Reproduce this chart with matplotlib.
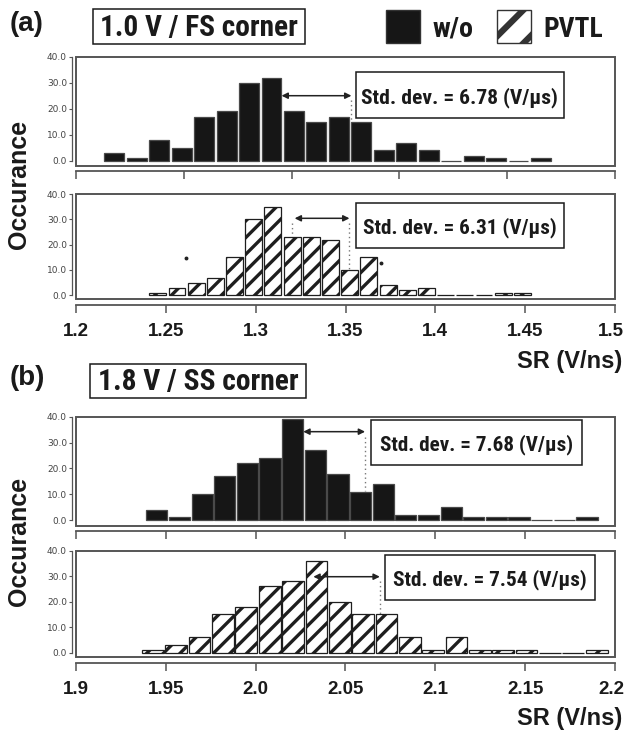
import matplotlib
matplotlib.use("Agg")
import matplotlib.pyplot as plt
from matplotlib.patches import Rectangle
from matplotlib import font_manager as fm
from matplotlib.transforms import ScaledTranslation

W, H, DPI = 624, 731, 100

# ---------------- data ----------------
a_wo_centers = [1.2213, 1.2338, 1.2463, 1.2588, 1.2713, 1.2838, 1.2963, 1.3088, 1.3213, 1.3338,
                1.3463, 1.3588, 1.3713, 1.3838, 1.3963, 1.4088, 1.4213, 1.4338, 1.4463, 1.4588]
a_wo_counts = [3, 1, 8, 5, 17, 19, 30, 32, 19, 15, 17, 15, 4, 7, 4, 0, 2, 1, 0, 1]

a_pvtl_centers = [1.2455, 1.2562, 1.2669, 1.2775, 1.2882, 1.2989, 1.3096, 1.3203, 1.3309, 1.3416,
                  1.3523, 1.3630, 1.3737, 1.3843, 1.3950, 1.4057, 1.4164, 1.4271, 1.4377, 1.4484]
a_pvtl_counts = [1, 3, 5, 7, 15, 30, 35, 23, 23, 22, 10, 15, 4, 2, 3, 0, 0, 0, 1, 1]

b_wo_centers = [1.9450, 1.9576, 1.9702, 1.9828, 1.9954, 2.0080, 2.0206, 2.0332, 2.0458, 2.0584,
                2.0710, 2.0836, 2.0962, 2.1088, 2.1214, 2.1340, 2.1466, 2.1592, 2.1718, 2.1844]
b_wo_counts = [4, 1, 10, 17, 22, 24, 39, 27, 18, 11, 14, 2, 2, 5, 1, 1, 1, 0, 0, 1]

b_pvtl_centers = [1.9428, 1.9558, 1.9688, 1.9818, 1.9948, 2.0078, 2.0208, 2.0338, 2.0468, 2.0598,
                  2.0728, 2.0858, 2.0988, 2.1118, 2.1248, 2.1378, 2.1508, 2.1638, 2.1768, 2.1898]
b_pvtl_counts = [1, 3, 6, 15, 18, 26, 28, 36, 20, 15, 15, 6, 1, 6, 1, 1, 1, 0, 0, 1]

a_xticks = [1.2, 1.25, 1.3, 1.35, 1.4, 1.45, 1.5]
a_xticklabels = ["1.2", "1.25", "1.3", "1.35", "1.4", "1.45", "1.5"]
a_top_ticks = [1.2, 1.26, 1.32, 1.38, 1.44, 1.5]
b_xticks = [1.9, 1.95, 2.0, 2.05, 2.1, 2.15, 2.2]
b_xticklabels = ["1.9", "1.95", "2.0", "2.05", "2.1", "2.15", "2.2"]
yticks = [0, 10, 20, 30, 40]
yticklabels = ["0.0", "10.0", "20.0", "30.0", "40.0"]

std_labels = ["Std. dev. = 6.78 (V/\u03bcs)", "Std. dev. = 6.31 (V/\u03bcs)",
              "Std. dev. = 7.68 (V/\u03bcs)", "Std. dev. = 7.54 (V/\u03bcs)"]
corner_titles = ["1.0 V / FS corner", "1.8 V / SS corner"]
panel_tags = ["(a)", "(b)"]
legend_labels = ["w/o", "PVTL"]
ylabel = "Occurance"
xlabel = "SR (V/ns)"

# ---------------- fonts ----------------
SANS = ["Liberation Sans", "DejaVu Sans"]


def pick_narrow():
    fonts = fm.fontManager.ttflist
    for want in ("Liberation Sans Narrow", "Arial Narrow", "Roboto Condensed", "Open Sans Condensed"):
        for f in fonts:
            if f.name == want:
                return dict(family=[want, "DejaVu Sans"], fontweight="bold")
    for fam in ("Roboto", "Open Sans", "DejaVu Sans"):
        for f in fonts:
            if f.name == fam and f.stretch in ("condensed", "semi-condensed"):
                return dict(family=[fam], fontstretch=f.stretch, fontweight="bold")
    return dict(family=SANS, fontweight="bold")


narrow_kw = pick_narrow()

BLACK = "#161616"
FRAME = "#555555"
INK = "#1a1a1a"

fig = plt.figure(figsize=(W / DPI, H / DPI), dpi=DPI)
renderer = fig.canvas.get_renderer()


def fit_width(t, target_px):
    for _ in range(3):
        w = t.get_window_extent(renderer).width
        if w > 0:
            t.set_fontsize(t.get_fontsize() * target_px / w)
    return t


def fx(px):
    return px / W


def fy(py):
    return 1 - py / H


def make_axes(box_top, box_bot, y0px, y40px, xlim, xticks, xticklabels, bottom_out):
    left, right = 76, 615
    ax = fig.add_axes([fx(left), fy(box_bot), (right - left) / W, (box_bot - box_top) / H])
    ppu = (y0px - y40px) / 40.0
    ax.set_xlim(*xlim)
    ax.set_ylim(-(box_bot - y0px) / ppu, 40 + (y40px - box_top) / ppu)
    for s in ("top", "right"):
        ax.spines[s].set_visible(False)
    ax.spines["left"].set_position(("outward", 3))
    ax.spines["left"].set_bounds(0, 40)
    ax.spines["left"].set_color(FRAME)
    ax.spines["left"].set_linewidth(0.9)
    ax.spines["bottom"].set_position(("outward", bottom_out))
    ax.spines["bottom"].set_color(FRAME)
    ax.spines["bottom"].set_linewidth(1.3)
    ax.add_patch(Rectangle((0, 0), 1, 1, transform=ax.transAxes, fill=False,
                           ec=FRAME, lw=1.4, clip_on=False, zorder=6))
    ax.set_yticks(yticks)
    ax.set_yticklabels(yticklabels, fontsize=6.5, color="#444444", family="DejaVu Sans")
    ax.tick_params(axis="y", direction="out", length=2.5, width=0.8, color=FRAME, pad=1)
    ax.set_xticks(xticks)
    if xticklabels is None:
        ax.set_xticklabels([])
        ax.tick_params(axis="x", direction="out", length=5.5, width=1.1, color=FRAME)
    else:
        ax.set_xticklabels(xticklabels, fontsize=13.5, fontweight="bold", family=SANS, color=INK)
        ax.tick_params(axis="x", direction="out", length=5.5, width=1.1, color=FRAME, pad=7)
        last = ax.get_xticklabels()[-1]
        last.set_transform(last.get_transform() + ScaledTranslation(-4 / DPI, 0, fig.dpi_scale_trans))
    return ax


def solid_bars(ax, centers, counts, width):
    ax.bar(centers, counts, width=width, color=BLACK, edgecolor="#4a4a4a", linewidth=0.9, zorder=2)


def hatched_bars(ax, centers, counts, width):
    bars = ax.bar(centers, counts, width=width, color="white", edgecolor="#1e1e1e",
                  hatch="//", linewidth=0.9, zorder=2)
    for b in bars:
        if hasattr(b, "set_hatch_linewidth"):
            b.set_hatch_linewidth(2.4)


def std_box(ax, x0, x1, y0, y1, text, width_px):
    ax.add_patch(Rectangle((x0, y0), x1 - x0, y1 - y0, fc="white", ec=INK, lw=1.1, zorder=7))
    t = ax.text((x0 + x1) / 2, (y0 + y1) / 2, text, ha="center", va="center_baseline",
                fontsize=14, color=INK, zorder=8, **narrow_kw)
    fit_width(t, width_px)


def arrow(ax, x1, x2, y):
    ax.annotate("", xy=(x2, y), xytext=(x1, y),
                arrowprops=dict(arrowstyle="<|-|>", color="#222222", lw=1.1,
                                mutation_scale=9, shrinkA=0, shrinkB=0), zorder=8)


def dotted(ax, x, y1, y2):
    ax.plot([x, x], [y1, y2], ls=(0, (1, 2.2)), color="#777777", lw=1.0, zorder=3)


plt.rcParams["hatch.linewidth"] = 2.4

# ---------------- panel (a) ----------------
ax1 = make_axes(56.5, 166, 160.7, 56.7, (1.2, 1.5), a_top_ticks, None, 3.5)
solid_bars(ax1, a_wo_centers, a_wo_counts, 0.0111)
arrow(ax1, 1.3144, 1.3533, 25)
dotted(ax1, 1.3533, 23.5, 15.5)
std_box(ax1, 1.3556, 1.4717, 16.5, 34.0, std_labels[0], 196)

ax2 = make_axes(193.5, 299, 295.3, 194, (1.2, 1.5), a_xticks, a_xticklabels, 4.5)
hatched_bars(ax2, a_pvtl_centers, a_pvtl_counts, 0.0094)
arrow(ax2, 1.3217, 1.3522, 30.4)
dotted(ax2, 1.3522, 28.5, 10.3)
dotted(ax2, 1.3203, 28.5, 23.3)
std_box(ax2, 1.3556, 1.4717, 18.7, 36.4, std_labels[1], 194)
ax2.plot([1.2611, 1.3700], [14.9, 12.6], ls="none", marker="o", ms=1.8, color="#222222", zorder=4)

# ---------------- panel (b) ----------------
ax3 = make_axes(416.5, 526, 520, 416.7, (1.9, 2.2), b_xticks, None, 3.5)
solid_bars(ax3, b_wo_centers, b_wo_counts, 0.0118)
arrow(ax3, 2.0265, 2.0609, 34.2)
dotted(ax3, 2.0609, 32.0, 11.2)
std_box(ax3, 2.0640, 2.1816, 21.3, 38.8, std_labels[2], 193)

ax4 = make_axes(550.5, 657, 652.7, 550.7, (1.9, 2.2), b_xticks, b_xticklabels, 4.5)
hatched_bars(ax4, b_pvtl_centers, b_pvtl_counts, 0.0121)
arrow(ax4, 2.0321, 2.0691, 29.8)
dotted(ax4, 2.0691, 28.0, 15.2)
std_box(ax4, 2.0719, 2.1889, 20.7, 38.3, std_labels[3], 195)


# ---------------- figure-level text ----------------
def fig_box(x0, y0, x1, y1, **kw):
    r = Rectangle((fx(x0), fy(y1)), fx(x1) - fx(x0), fy(y0) - fy(y1), transform=fig.transFigure, **kw)
    fig.add_artist(r)
    return r


fig.text(fx(10), fy(31), panel_tags[0], fontsize=20, fontweight="bold", family=SANS, color=INK)
fig.text(fx(10), fy(385), panel_tags[1], fontsize=20, fontweight="bold", family=SANS, color=INK)

fig_box(93, 9, 305, 44, fill=False, ec=INK, lw=1.1)
fit_width(fig.text(fx(199), fy(36), corner_titles[0], ha="center", va="baseline",
                   fontsize=18, color=INK, **narrow_kw), 198)
fig_box(90, 364, 306, 398, fill=False, ec=INK, lw=1.1)
fit_width(fig.text(fx(198), fy(390), corner_titles[1], ha="center", va="baseline",
                   fontsize=18, color=INK, **narrow_kw), 200)

fig_box(386, 10, 420, 43, fc=BLACK, ec="#333333", lw=1.0)
fit_width(fig.text(fx(433), fy(36.7), legend_labels[0], ha="left", va="baseline",
                   fontsize=18, color=INK, **narrow_kw), 41)
hbox = fig_box(497, 10, 531, 43, fc="white", ec="#333333", lw=1.0, hatch="/")
if hasattr(hbox, "set_hatch_linewidth"):
    hbox.set_hatch_linewidth(4.5)
fit_width(fig.text(fx(543), fy(36.7), legend_labels[1], ha="left", va="baseline",
                   fontsize=18, color=INK, **narrow_kw), 60)

for yc in (184, 541):
    fig.text(fx(26), fy(yc), ylabel, rotation=90, rotation_mode="anchor", ha="center",
             va="baseline", fontsize=18, fontweight="bold", family=SANS, color=INK)

fig.text(fx(622), fy(368), xlabel, ha="right", va="baseline", fontsize=17, fontweight="bold",
         family=SANS, color=INK)
fig.text(fx(622), fy(725), xlabel, ha="right", va="baseline", fontsize=17, fontweight="bold",
         family=SANS, color=INK)

fig.savefig("out.png", dpi=DPI)
